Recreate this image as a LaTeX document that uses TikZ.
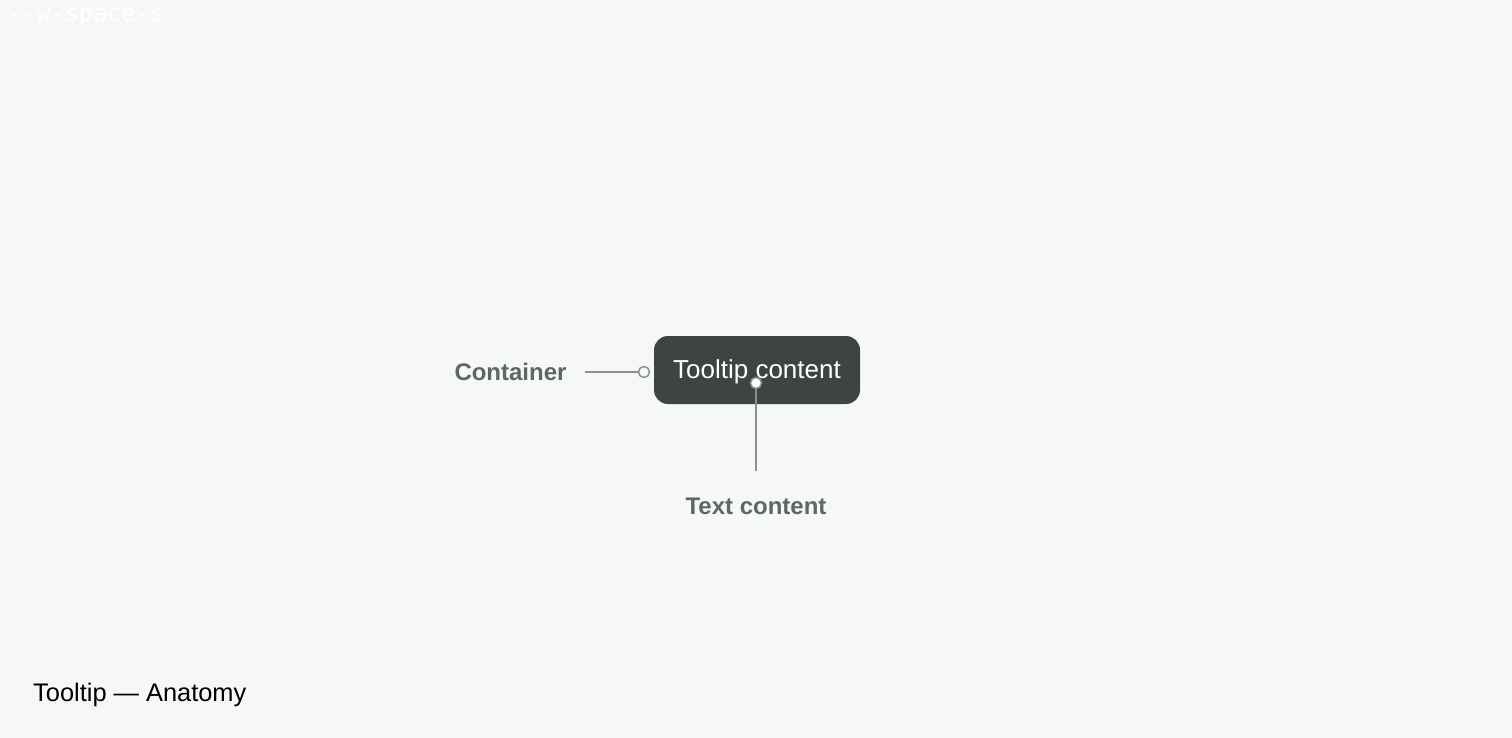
\documentclass[tikz,border=0pt]{standalone}
\usepackage{fontspec}
\setmainfont{Liberation Sans}
\setmonofont{DejaVu Sans Mono}
\definecolor{bg}{HTML}{F6F8F7}
\definecolor{tipfill}{HTML}{3E4444}
\definecolor{labelgray}{HTML}{5F6766}
\definecolor{linegray}{HTML}{8A9190}
\tikzset{
  label text/.style={font=\fontsize{24}{28}\selectfont\bfseries, text=labelgray, inner sep=0pt},
  dotmark/.style={circle, draw=linegray, line width=1.5pt, minimum size=11pt, inner sep=0pt},
  leader/.style={draw=linegray, line width=1.5pt},
}
\begin{document}
\begin{tikzpicture}[x=1pt,y=-1pt]
\fill[bg] (0,0) rectangle (1512,738);
\useasboundingbox (0,0) rectangle (1512,738);
\node[anchor=west, inner sep=0pt, text=white, font=\ttfamily\fontsize{23.5}{28}\selectfont] (token) at (8,17) {-{}-w-space-s};
\node[fill=tipfill, rounded corners=14pt, minimum width=206pt, minimum height=68pt, inner sep=0pt] (tip) at (757,370) {};
\node[inner sep=0pt, text=white, font=\fontsize{26}{30}\selectfont] (tiptext) at (757,371.5) {Tooltip content};
\node[label text] (container) at (510.5,372) {Container};
\coordinate (cstart) at (585,372);
\node[dotmark, fill=bg] (cdot) at (644,372) {};
\draw[leader] (cstart) -- (cdot);
\node[dotmark, fill=white] (tdot) at (756,383) {};
\coordinate (tend) at (756,471);
\draw[leader] (tdot) -- (tend);
\node[label text] (textc) at (756,506) {Text content};
\node[anchor=west, inner sep=0pt, text=black, font=\fontsize{25.4}{30}\selectfont] (title) at (33,695) {Tooltip — Anatomy};
\end{tikzpicture}
\end{document}
